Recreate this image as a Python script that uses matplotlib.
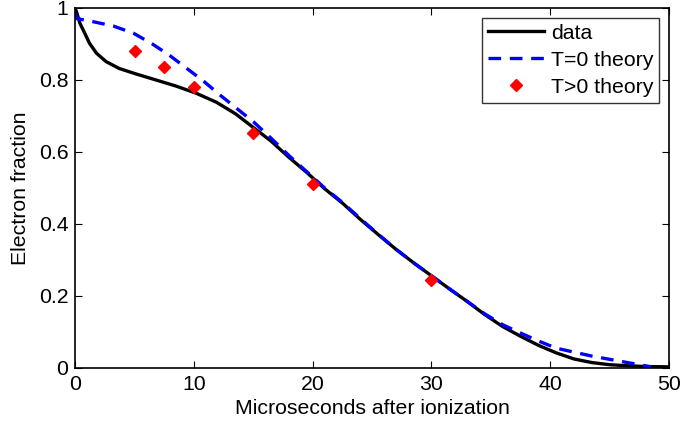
import matplotlib
matplotlib.use("Agg")
import matplotlib.pyplot as plt
from matplotlib.ticker import FuncFormatter

plt.rcParams['font.family'] = ['Liberation Sans', 'DejaVu Sans']

data_x = [0, 0.1, 0.4, 0.8, 1.2, 1.8, 2.6, 3.7, 5.1, 6.8, 8.5, 10.2, 11.9, 13.5, 15,
          16.5, 18, 19.5, 21, 22.5, 24, 25.5, 27, 28.5, 30, 31.5, 33, 34.5, 36, 37.5,
          39, 40.5, 42, 43.5, 45, 46.5, 48, 50]
data_y = [0.998, 0.99, 0.957, 0.93, 0.902, 0.874, 0.851, 0.832, 0.817, 0.8, 0.783,
          0.763, 0.738, 0.706, 0.668, 0.63, 0.585, 0.543, 0.498, 0.458, 0.413, 0.371,
          0.33, 0.292, 0.256, 0.22, 0.185, 0.148, 0.115, 0.088, 0.063, 0.042, 0.025,
          0.015, 0.009, 0.006, 0.004, 0.003]

t0_x = [0, 0.1, 1.5, 3.2, 4.9, 6.5, 8, 9.4, 10.8, 12.2, 13.6, 15, 16.5, 18, 19.5, 21,
        22.5, 24, 25.5, 27, 28.5, 30, 31.5, 33, 34.5, 36, 37.5, 39, 40.5, 42, 43.5,
        45, 46.5, 48, 48.5]
t0_y = [0.985, 0.971, 0.962, 0.95, 0.93, 0.9, 0.867, 0.832, 0.797, 0.758, 0.721,
        0.684, 0.638, 0.59, 0.545, 0.5, 0.46, 0.415, 0.372, 0.33, 0.292, 0.256, 0.22,
        0.185, 0.15, 0.12, 0.097, 0.075, 0.055, 0.044, 0.033, 0.024, 0.015, 0.006,
        0.003]

tp_x = [5, 7.5, 10, 15, 20, 30]
tp_y = [0.881, 0.836, 0.78, 0.652, 0.51, 0.243]

x_ticks = [0, 10, 20, 30, 40, 50]
y_ticks = [0, 0.2, 0.4, 0.6, 0.8, 1]

FS = 15.3

fig = plt.figure(figsize=(6.84, 4.21), dpi=100)
ax = fig.add_axes([0.110, 0.126, 0.868, 0.855])

ax.plot(data_x, data_y, color='black', lw=2.4, label='data')
ax.plot(t0_x, t0_y, color='blue', lw=2.4, ls=(0, (3.8, 2.6)), label='T=0 theory')
ax.plot(tp_x, tp_y, ls='none', marker='D', color='red', ms=6.5, label='T>0 theory')

ax.set_xlim(0, 50)
ax.set_ylim(0, 1)
ax.set_xticks(x_ticks)
ax.set_yticks(y_ticks)
ax.yaxis.set_major_formatter(FuncFormatter(lambda v, p: ('%g' % v)))
ax.tick_params(direction='in', top=True, right=True, labelsize=FS, length=5,
               width=0.8, pad=5)
for s in ax.spines.values():
    s.set_linewidth(1.2)

ax.set_xlabel('Microseconds after ionization', fontsize=FS, labelpad=4)
ax.set_ylabel('Electron fraction', fontsize=FS, labelpad=6)

leg = ax.legend(loc='upper right', fontsize=FS, frameon=True, fancybox=False,
                edgecolor='black', borderpad=0.3, labelspacing=0.37,
                handlelength=2.6, handletextpad=0.33, borderaxespad=0.45)
leg.get_frame().set_linewidth(1.0)

fig.savefig('out.png', dpi=100)
